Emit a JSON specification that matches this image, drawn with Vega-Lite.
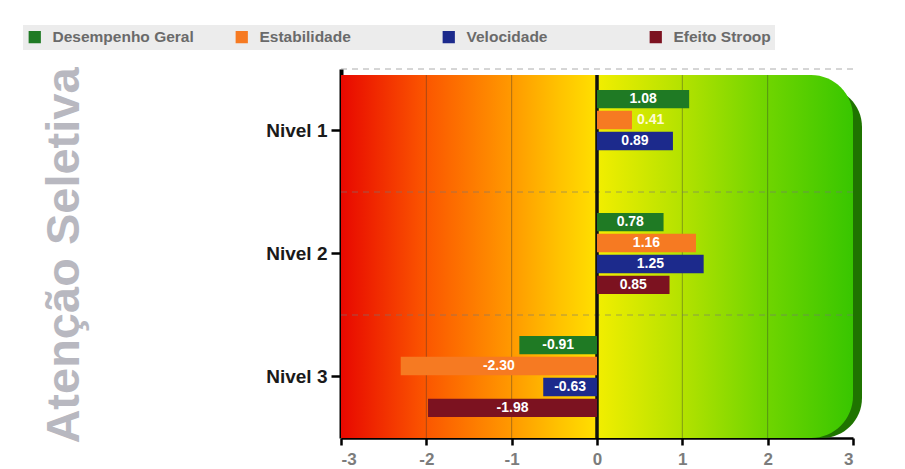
{
  "$schema": "https://vega.github.io/schema/vega-lite/v6.json",
  "autosize": "none",
  "width": 512,
  "height": 369,
  "padding": {"left": 341, "top": 69, "right": 52, "bottom": 31},
  "background": "#ffffff",
  "config": {
    "font": "Liberation Sans",
    "view": {"stroke": null}
  },
  "datasets": {
    "resultados": [
      {"nivel": "Nivel 1", "serie": "Desempenho Geral", "valor": 1.08},
      {"nivel": "Nivel 1", "serie": "Estabilidade", "valor": 0.41},
      {"nivel": "Nivel 1", "serie": "Velocidade", "valor": 0.89},
      {"nivel": "Nivel 2", "serie": "Desempenho Geral", "valor": 0.78},
      {"nivel": "Nivel 2", "serie": "Estabilidade", "valor": 1.16},
      {"nivel": "Nivel 2", "serie": "Velocidade", "valor": 1.25},
      {"nivel": "Nivel 2", "serie": "Efeito Stroop", "valor": 0.85},
      {"nivel": "Nivel 3", "serie": "Desempenho Geral", "valor": -0.91},
      {"nivel": "Nivel 3", "serie": "Estabilidade", "valor": -2.30},
      {"nivel": "Nivel 3", "serie": "Velocidade", "valor": -0.63},
      {"nivel": "Nivel 3", "serie": "Efeito Stroop", "valor": -1.98}
    ],
    "zonas": [
      {"zona": "negativa", "inicio": -3, "fim": 0},
      {"zona": "positiva", "inicio": 0, "fim": 3}
    ],
    "grade": [{"x": -2}, {"x": -1}, {"x": 1}, {"x": 2}],
    "zero": [{"x": 0}],
    "faixas": [{"nivel": "Nivel 1"}, {"nivel": "Nivel 2"}, {"nivel": "Nivel 3"}]
  },
  "layer": [
    {
      "data": {"name": "zonas"},
      "transform": [{"filter": "datum.zona === 'positiva'"}],
      "mark": {"type": "rect", "color": "#1f7400", "xOffset": 9, "x2Offset": 9, "yOffset": 18, "y2Offset": -12, "cornerRadius": 40},
      "encoding": {
        "x": {"field": "inicio", "type": "quantitative", "title": null},
        "x2": {"field": "fim"}
      }
    },
    {
      "data": {"name": "zonas"},
      "transform": [{"filter": "datum.zona === 'negativa'"}],
      "mark": {
        "type": "rect",
        "yOffset": 6,
        "y2Offset": -3,
        "color": {
          "gradient": "linear", "x1": 0, "y1": 0, "x2": 1, "y2": 0,
          "stops": [
            {"offset": 0, "color": "#e80800"},
            {"offset": 0.33, "color": "#fb5600"},
            {"offset": 0.66, "color": "#ff9800"},
            {"offset": 0.85, "color": "#ffc200"},
            {"offset": 1, "color": "#ffe000"}
          ]
        }
      },
      "encoding": {
        "x": {"field": "inicio", "type": "quantitative", "title": null},
        "x2": {"field": "fim"}
      }
    },
    {
      "data": {"name": "zonas"},
      "transform": [{"filter": "datum.zona === 'positiva'"}],
      "mark": {
        "type": "rect",
        "yOffset": 6,
        "y2Offset": -3,
        "cornerRadiusTopRight": 42,
        "cornerRadiusBottomRight": 42,
        "color": {
          "gradient": "linear", "x1": 0, "y1": 0, "x2": 1, "y2": 0,
          "stops": [
            {"offset": 0, "color": "#f2ee00"},
            {"offset": 0.33, "color": "#b4e200"},
            {"offset": 0.66, "color": "#70d500"},
            {"offset": 1, "color": "#38c600"}
          ]
        }
      },
      "encoding": {
        "x": {"field": "inicio", "type": "quantitative", "title": null},
        "x2": {"field": "fim"}
      }
    },
    {
      "data": {"name": "grade"},
      "mark": {"type": "rule", "color": "#333333", "opacity": 0.4, "strokeWidth": 1, "yOffset": 6},
      "encoding": {
        "x": {"field": "x", "type": "quantitative", "title": null}
      }
    },
    {
      "data": {"name": "faixas"},
      "mark": {"type": "rule", "color": "#777777", "opacity": 0.6, "strokeWidth": 1, "strokeDash": [6, 5]},
      "encoding": {
        "y": {"field": "nivel", "type": "nominal", "bandPosition": 0, "title": "Atenção Seletiva"}
      }
    },
    {
      "data": {"name": "zero"},
      "mark": {"type": "rule", "color": "#111111", "strokeWidth": 3.5, "yOffset": 6},
      "encoding": {
        "x": {"field": "x", "type": "quantitative", "title": null}
      }
    },
    {
      "data": {"name": "resultados"},
      "mark": {"type": "bar"},
      "encoding": {
        "y": {
          "field": "nivel",
          "type": "nominal",
          "title": "Atenção Seletiva",
          "scale": {"domain": ["Nivel 1", "Nivel 2", "Nivel 3"], "paddingInner": 0, "paddingOuter": 0},
          "axis": {
            "title": "Atenção Seletiva",
            "titleFontSize": 47,
            "titleFontWeight": "bold",
            "titleColor": "#b8b8c0",
            "titleAngle": -90,
            "titleAlign": "center",
            "titleBaseline": "alphabetic",
            "titleX": -263,
            "titleY": 186,
            "labelFontSize": 19,
            "labelFontWeight": "bold",
            "labelColor": "#1a1a1a",
            "labelPadding": 4,
            "tickSize": 10,
            "tickWidth": 2.5,
            "tickColor": "#000000",
            "domainColor": "#000000",
            "domainWidth": 4,
            "grid": false
          }
        },
        "yOffset": {
          "field": "serie",
          "type": "nominal",
          "scale": {
            "domain": ["Desempenho Geral", "Estabilidade", "Velocidade", "Efeito Stroop"],
            "paddingInner": 0.12,
            "paddingOuter": 1.28
          }
        },
        "x": {
          "field": "valor",
          "type": "quantitative",
          "title": null,
          "scale": {"domain": [-3, 3], "nice": false, "zero": false},
          "axis": {
            "title": null,
            "values": [-3, -2, -1, 0, 1, 2, 3],
            "labelExpr": "'' + datum.value",
            "labelFontSize": 17,
            "labelFontWeight": "bold",
            "labelColor": "#7c7c7c",
            "labelPadding": 6,
            "tickSize": 7,
            "tickWidth": 2.5,
            "tickColor": "#000000",
            "domainColor": "#000000",
            "domainWidth": 2.5,
            "grid": false
          }
        },
        "x2": {"datum": 0},
        "color": {
          "field": "serie",
          "type": "nominal",
          "scale": {
            "domain": ["Desempenho Geral", "Estabilidade", "Velocidade", "Efeito Stroop"],
            "range": ["#1f7a24", "#f67a22", "#1c2a8c", "#7c1220"]
          },
          "legend": {
            "title": null,
            "orient": "none",
            "legendX": -318,
            "legendY": -44,
            "direction": "horizontal",
            "columns": 4,
            "gridAlign": "all",
            "columnPadding": 40,
            "padding": 4,
            "fillColor": "#ececec",
            "symbolType": "square",
            "symbolSize": 150,
            "symbolStrokeWidth": 0,
            "symbolOpacity": 1,
            "labelFontSize": 15.5,
            "labelFontWeight": "bold",
            "labelColor": "#6a6a6a",
            "labelOffset": 10,
            "labelLimit": 300
          }
        }
      }
    },
    {
      "data": {"name": "resultados"},
      "transform": [
        {"filter": "abs(datum.valor) >= 0.5"},
        {"calculate": "datum.valor / 2", "as": "meio"},
        {"calculate": "(datum.valor < 0 ? '-' : '') + format(abs(datum.valor), '.2f')", "as": "rotulo"}
      ],
      "mark": {"type": "text", "color": "#ffffff", "fontSize": 14, "fontWeight": "bold", "align": "center", "baseline": "middle"},
      "encoding": {
        "y": {"field": "nivel", "type": "nominal", "title": "Atenção Seletiva"},
        "yOffset": {"field": "serie", "type": "nominal"},
        "x": {"field": "meio", "type": "quantitative", "title": null},
        "text": {"field": "rotulo"}
      }
    },
    {
      "data": {"name": "resultados"},
      "transform": [
        {"filter": "abs(datum.valor) < 0.5"},
        {"calculate": "(datum.valor < 0 ? '-' : '') + format(abs(datum.valor), '.2f')", "as": "rotulo"}
      ],
      "mark": {"type": "text", "color": "#fffbd2", "fontSize": 14, "fontWeight": "bold", "align": "left", "baseline": "middle", "dx": 5},
      "encoding": {
        "y": {"field": "nivel", "type": "nominal", "title": "Atenção Seletiva"},
        "yOffset": {"field": "serie", "type": "nominal"},
        "x": {"field": "valor", "type": "quantitative", "title": null},
        "text": {"field": "rotulo"}
      }
    }
  ]
}
